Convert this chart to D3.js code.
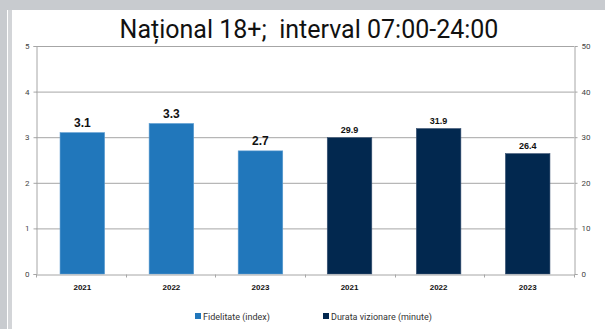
<!DOCTYPE html>
<html><head><meta charset="utf-8">
<script src="https://cdn.jsdelivr.net/npm/d3@7"></script>
<style>
html,body{margin:0;padding:0;background:#fff;}
svg{display:block;}
</style></head>
<body>
<svg id="chart" width="605" height="329"></svg>
<script>
const titleText = "Național 18+;  interval 07:00-24:00";
const categories = ["2021", "2022", "2023", "2021 ", "2022 ", "2023 "];
const fidelitate = [3.1, 3.3, 2.7];
const durata = [29.9, 31.9, 26.4];
const leftTicks = [0, 1, 2, 3, 4, 5];
const rightTicks = [0, 10, 20, 30, 40, 50];
const seriesNames = ["Fidelitate (index)", "Durata vizionare (minute)"];
const colors = ["#2177bb", "#02284f"];

const svg = d3.select("#chart");
// background frame
svg.append("rect").attr("x",0).attr("y",0).attr("width",605).attr("height",329).attr("fill","#fff");
svg.append("rect").attr("x",0).attr("y",0).attr("width",605).attr("height",10).attr("fill","#c8cbcf");
svg.append("rect").attr("x",0).attr("y",0).attr("width",7).attr("height",329).attr("fill","#c8cbcf");
svg.append("rect").attr("x",8).attr("y",10).attr("width",4).attr("height",319).attr("fill","#d3d5d8");

const m = {left:36, right:574, top:46, bottom:274};
const x = d3.scaleBand().domain(categories).range([m.left, m.right]).paddingInner(0.5).paddingOuter(0.27);
const yL = d3.scaleLinear().domain([0,5]).range([m.bottom, m.top]);
const yR = d3.scaleLinear().domain([0,50]).range([m.bottom, m.top]);

// title
svg.append("text").attr("x",309).attr("y",38).attr("text-anchor","middle")
  .attr("font-family","Roboto").attr("font-size",25).attr("fill","#111")
  .style("white-space","pre").text(titleText);

// gridlines
svg.append("g").selectAll("line").data(leftTicks.slice(1)).join("line")
  .attr("x1",m.left).attr("x2",m.right).attr("y1",d=>yL(d)+0.5).attr("y2",d=>yL(d)+0.5)
  .attr("stroke","#a6a6a6").attr("stroke-width",1);

// left axis
const gl = svg.append("g").attr("transform",`translate(${m.left+0.5},0)`)
  .call(d3.axisLeft(yL).tickValues(leftTicks).tickSize(3).tickPadding(4).tickFormat(d3.format("d")));
// right axis
const gr = svg.append("g").attr("transform",`translate(${m.right+0.5},0)`)
  .call(d3.axisRight(yR).tickValues(rightTicks).tickSize(3).tickPadding(4).tickFormat(d3.format("d")));
[gl,gr].forEach(g=>{
  g.select(".domain").attr("stroke","#a6a6a6");
  g.selectAll(".tick line").attr("stroke","#a6a6a6");
  g.selectAll(".tick text").attr("font-family","Roboto").attr("font-size",8).attr("fill","#444");
});

// bars
const bars = categories.map((c,i)=> i<3 ? {c, v:fidelitate[i], s:0} : {c, v:durata[i-3], s:1});
const yOf = d => d.s===0 ? yL(d.v) : yR(d.v);
svg.append("g").selectAll("rect").data(bars).join("rect")
  .attr("x",d=>x(d.c)).attr("width",x.bandwidth())
  .attr("y",d=>yOf(d)).attr("height",d=>m.bottom - yOf(d))
  .attr("fill",d=>colors[d.s]).attr("stroke",d=>d.s===0?"#5a9bd0":"#3a5272").attr("stroke-width",0.6);

// value labels
svg.append("g").selectAll("text").data(bars).join("text")
  .attr("x",d=>x(d.c)+x.bandwidth()/2).attr("y",d=>yOf(d)-(d.s===0?6:5))
  .attr("text-anchor","middle").attr("font-family","Liberation Sans, Arial").attr("font-weight","bold")
  .attr("font-size",d=>d.s===0?12:9).attr("fill","#111")
  .text(d=>d3.format(".1f")(d.v));

// bottom axis
const gb = svg.append("g").attr("transform",`translate(0,${m.bottom+0.5})`)
  .call(d3.axisBottom(x).tickSize(0).tickPadding(10).tickFormat(d=>d.trim()));
gb.select(".domain").attr("stroke","#a6a6a6");
gb.selectAll(".tick text").attr("font-family","Liberation Sans, Arial").attr("font-weight","bold").attr("font-size",8).attr("fill","#111");
// category separator ticks
const seps = d3.range(categories.length+1).map(i=> m.left + i*(m.right-m.left)/categories.length);
gb.selectAll(".sep").data(seps).join("line").attr("class","sep")
  .attr("x1",d=>Math.round(d)+0.5).attr("x2",d=>Math.round(d)+0.5).attr("y1",0).attr("y2",3)
  .attr("stroke","#a6a6a6");

// legend
const legendX = [195, 323];
const lg = svg.append("g");
seriesNames.forEach((n,i)=>{
  lg.append("rect").attr("x",legendX[i]).attr("y",313).attr("width",6).attr("height",6).attr("fill",colors[i]);
  lg.append("text").attr("x",legendX[i]+8).attr("y",319.5).attr("font-family","Roboto").attr("font-size",9)
    .attr("fill","#333").text(n);
});
</script>
</body></html>
